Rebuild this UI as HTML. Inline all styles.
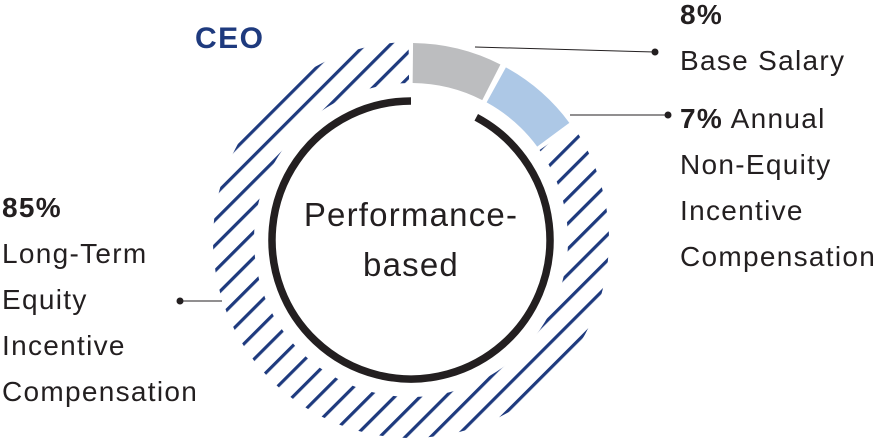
<!DOCTYPE html>
<html><head><meta charset="utf-8"><style>
html,body{margin:0;padding:0;background:#fff;}
body{width:883px;height:440px;position:relative;overflow:hidden;font-family:"Liberation Sans",Arial,sans-serif;color:#231f20;}
.t{position:absolute;font-size:28px;line-height:46px;white-space:nowrap;letter-spacing:1.3px;}
b{font-weight:bold;}
</style></head><body>
<svg width="883" height="440" style="position:absolute;left:0;top:0">
<defs>
<pattern id="h" patternUnits="userSpaceOnUse" width="18" height="18" patternTransform="rotate(45)">
<rect x="0" y="0" width="3.2" height="18" fill="#1e3a7e"/>
</pattern>
</defs>
<path id="hatch" fill="url(#h)"/>
<path id="gray" fill="#bcbdbf"/>
<path id="blue" fill="#adc8e6"/>
<path id="blk" fill="none" stroke="#231f20" stroke-width="7.5"/>
<line x1="475" y1="47" x2="655" y2="52" stroke="#231f20" stroke-width="1"/>
<circle cx="655" cy="52" r="3.5" fill="#231f20"/>
<line x1="570" y1="115" x2="668" y2="115" stroke="#231f20" stroke-width="1"/>
<circle cx="668" cy="115" r="3.5" fill="#231f20"/>
<line x1="180" y1="301" x2="222" y2="301" stroke="#231f20" stroke-width="1"/>
<circle cx="180" cy="301" r="3.5" fill="#231f20"/>
</svg>
<script>
var cx=411,cy=240;
function p(r,a){a=a*Math.PI/180;return [cx+r*Math.sin(a),cy-r*Math.cos(a)];}
function seg(r1,r2,a1,a2){var l=(a2-a1)>180?1:0;var A=p(r2,a1),B=p(r2,a2),C=p(r1,a2),D=p(r1,a1);
return "M"+A+"A"+r2+","+r2+" 0 "+l+" 1 "+B+"L"+C+"A"+r1+","+r1+" 0 "+l+" 0 "+D+"Z";}
document.getElementById("gray").setAttribute("d",seg(157,197,0.6,27));
document.getElementById("blue").setAttribute("d",seg(157,197,28.8,53.5));
document.getElementById("hatch").setAttribute("d",seg(157,198,55,359.3));
var s=p(139,28),e=p(139,0);
document.getElementById("blk").setAttribute("d","M"+s+"A139,139 0 1 1 "+e);
</script>
<div class="t" style="left:195px;top:16px;font-size:30px;font-weight:bold;color:#1e3a7e;letter-spacing:1.5px;">CEO</div>
<div class="t" style="left:680px;top:-8px;"><b>8%</b></div>
<div class="t" style="left:680px;top:38px;">Base Salary</div>
<div class="t" style="left:680px;top:96px;"><b>7%</b> Annual<br>Non-Equity<br>Incentive<br>Compensation</div>
<div class="t" style="left:2px;top:185px;"><b>85%</b><br>Long-Term<br>Equity<br>Incentive<br>Compensation</div>
<div class="t" style="left:286px;top:190px;width:250px;text-align:center;font-size:33px;line-height:50px;letter-spacing:1.2px;">Performance-<br>based</div>
</body></html>
